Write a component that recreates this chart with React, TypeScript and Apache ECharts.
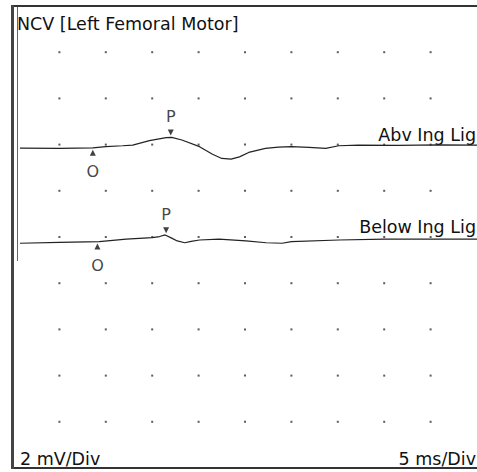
import React, { useEffect, useRef } from "react";
import * as echarts from "echarts";

// Time axis (ms) and amplitude axis (mV) grid ticks: 5 ms/Div, 2 mV/Div
const xTicks = [5, 10, 15, 20, 25, 30, 35, 40, 45];
const yTicks = [2, 4, 6, 8, 10, 12, 14, 16, 18];

// Trace names and baselines (mV on the axis)
const traceNames = ["Abv Ing Lig", "Below Ing Lig"];
const baselines = [13.85, 9.72];

// Trace 1: Abv Ing Lig
const timeAbv = [0.75, 5.0, 8.6, 10.0, 11.8, 12.9, 14.7, 16.5, 17.1, 18.2, 20.1, 21.5, 22.5, 23.5, 24.4, 25.4, 27.2, 28.6, 30.0, 31.9, 33.7, 35.1, 37.2, 41.5, 45.8, 50.0];
const ampAbv = [0, -0.01, 0.01, 0.06, 0.1, 0.13, 0.32, 0.45, 0.46, 0.35, 0.06, -0.27, -0.45, -0.48, -0.38, -0.19, -0.01, 0.04, 0.06, 0.03, -0.01, 0.1, 0.13, 0.12, 0.14, 0.13];

// Trace 2: Below Ing Lig
const timeBelow = [0.75, 5.0, 9.3, 12.2, 15.0, 15.8, 16.4, 17.1, 17.7, 18.5, 19.2, 20.1, 22.2, 25.1, 27.3, 29.0, 30.0, 35.1, 40.1, 44.7, 50.0];
const ampBelow = [0.01, 0.05, 0.08, 0.19, 0.25, 0.3, 0.37, 0.23, 0.11, 0.03, 0.09, 0.15, 0.19, 0.11, 0.03, 0.01, 0.08, 0.15, 0.19, 0.19, 0.19];

// Onset (O) and peak (P) markers: [time, amplitude]
const onsetMarks = [[8.6, 0.01], [9.1, 0.08]];
const peakMarks = [[17.0, 0.46], [16.5, 0.36]];

const FONT = "DejaVu Sans";

export default function App() {
  const ref = useRef<HTMLDivElement>(null);
  useEffect(() => {
    if (!ref.current) return;
    const chart = echarts.init(ref.current, null, { renderer: "svg" });
    const toData = (t: number[], a: number[], base: number) => t.map((x, i) => [x, a[i] + base]);
    const dots: number[][] = [];
    xTicks.forEach((x) => yTicks.forEach((y) => dots.push([x, y])));
    const onsetPts = onsetMarks.map((m, i) => [m[0], m[1] + baselines[i]]);
    const peakPts = peakMarks.map((m, i) => [m[0], m[1] + baselines[i]]);
    const txt = (text: string, x: number, y: number, align: string) => ({
      type: "text",
      x,
      y,
      style: { text, fontFamily: FONT, fontSize: 17.5, fill: "#111", verticalAlign: "middle", align },
    });
    const border = (x1: number, y1: number, x2: number, y2: number, w: number, c: string) => ({
      type: "line",
      shape: { x1, y1, x2, y2 },
      style: { stroke: c, lineWidth: w },
    });

    chart.setOption({
      animation: false,
      backgroundColor: "#ffffff",
      grid: {
        left: 13,
        top: 6,
        width: 466,
        height: 462,
        show: false,
      },
      xAxis: {
        type: "value",
        min: 0,
        max: 50,
        interval: 5,
        axisLine: { show: false },
        axisTick: { show: false },
        axisLabel: { show: false },
        splitLine: { show: false },
      },
      yAxis: {
        type: "value",
        min: 0,
        max: 20,
        interval: 2,
        axisLine: { show: false },
        axisTick: { show: false },
        axisLabel: { show: false },
        splitLine: { show: false },
      },
      series: [
        {
          type: "scatter",
          data: dots,
          symbol: "rect",
          symbolSize: 2,
          itemStyle: { color: "#333" },
          silent: true,
        },
        {
          type: "line",
          name: traceNames[0],
          data: toData(timeAbv, ampAbv, baselines[0]),
          showSymbol: false,
          symbol: "none",
          lineStyle: { color: "#222", width: 1.2 },
        },
        {
          type: "line",
          name: traceNames[1],
          data: toData(timeBelow, ampBelow, baselines[1]),
          showSymbol: false,
          symbol: "none",
          lineStyle: { color: "#222", width: 1.2 },
        },
        {
          type: "scatter",
          data: onsetPts,
          symbol: "triangle",
          symbolSize: [6, 6],
          symbolOffset: [0, 5],
          itemStyle: { color: "#111" },
        },
        {
          type: "scatter",
          data: peakPts,
          symbol: "triangle",
          symbolRotate: 180,
          symbolSize: [6, 6],
          symbolOffset: [0, -5],
          itemStyle: { color: "#111" },
        },
        {
          type: "scatter",
          data: onsetPts,
          symbolSize: 1,
          itemStyle: { color: "rgba(0,0,0,0)" },
          label: {
            show: true,
            position: "inside",
            offset: [0, 24],
            formatter: "O",
            color: "#111",
            fontFamily: FONT,
            fontSize: 16,
          },
        },
        {
          type: "scatter",
          data: peakPts,
          symbolSize: 1,
          itemStyle: { color: "rgba(0,0,0,0)" },
          label: {
            show: true,
            position: "inside",
            offset: [0, -21],
            formatter: "P",
            color: "#111",
            fontFamily: FONT,
            fontSize: 16,
          },
        },
      ],
      graphic: [
        border(11, 6, 477, 6, 2, "#333"),
        border(11, 468, 477, 468, 2, "#333"),
        border(12.5, 5, 12.5, 469, 3, "#444"),
        border(17.5, 7, 17.5, 261, 1, "#666"),
        txt("NCV [Left Femoral Motor]", 17, 24, "left"),
        txt(traceNames[0], 476, 135, "right"),
        txt(traceNames[1], 476, 227, "right"),
        txt("2 mV/Div", 20, 459, "left"),
        txt("5 ms/Div", 476, 459, "right"),
      ],
    });
    return () => chart.dispose();
  }, []);
  return (
    <div
      ref={ref}
      style={{ position: "fixed", left: 0, top: 0, width: 477, height: 472, background: "#fff" }}
    />
  );
}
